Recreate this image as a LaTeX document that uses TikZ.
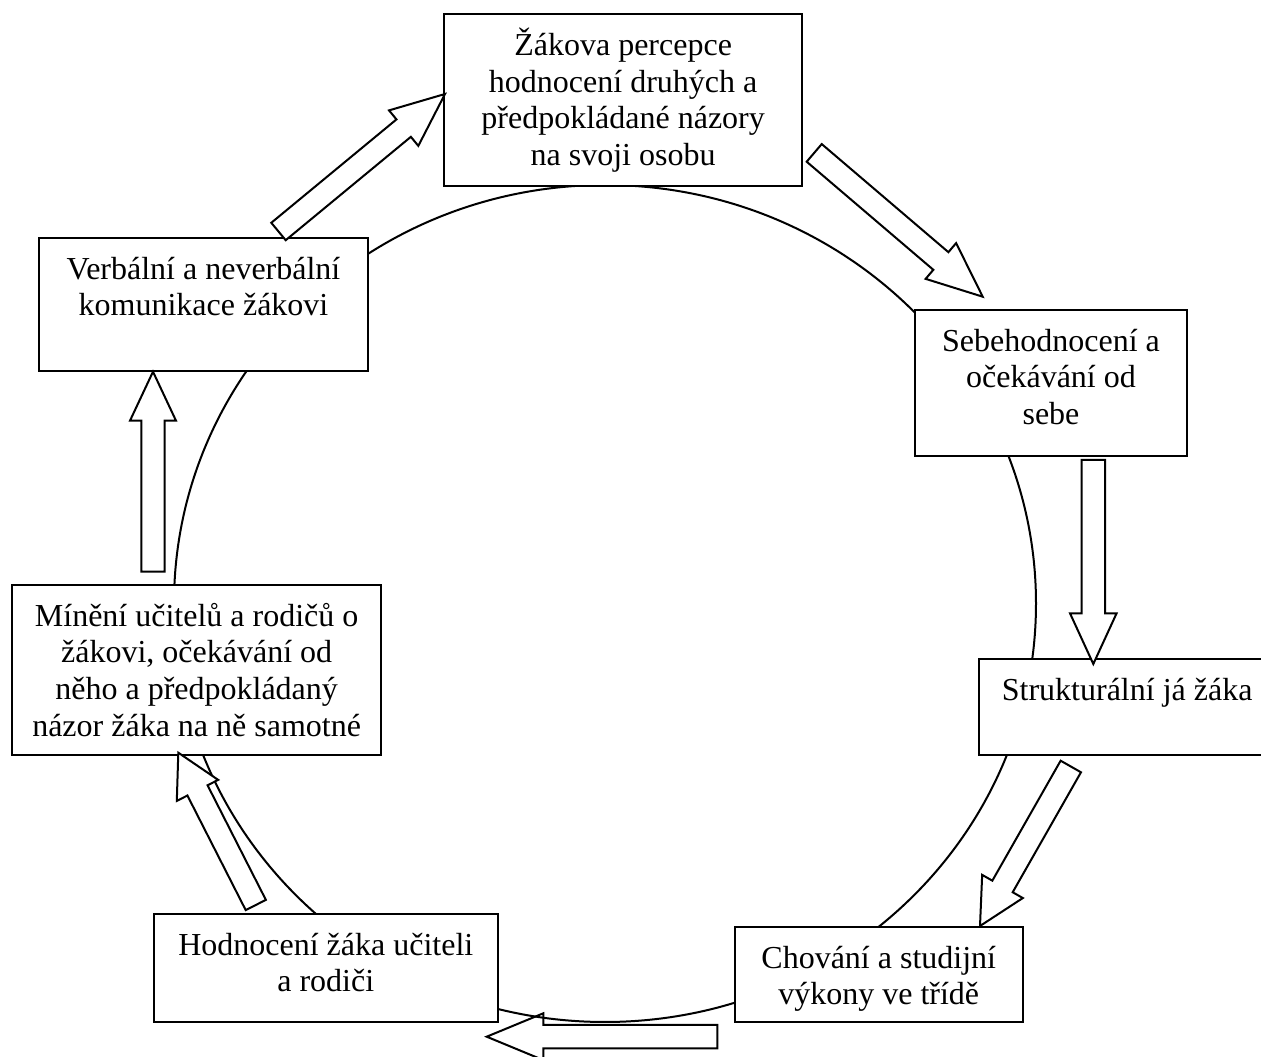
\documentclass[tikz,border=0pt]{standalone}
\usepackage{fontspec}
\setmainfont{Liberation Serif}
\usetikzlibrary{calc}

% one drawing unit = 0.375pt
\newcommand\unitlen{0.375pt}

% hollow block arrow: #1 tail, #2 tip, #3 half shaft width, #4 half head width, #5 head length
\newcommand\blockarrow[5]{%
  \path ($(#2)!#5*\unitlen!(#1)$) coordinate (#1-base);
  \draw[hollowarrow] ($(#1)!#3*\unitlen!90:(#2)$)
    -- ($(#1-base)!#3*\unitlen!90:(#2)$)
    -- ($(#1-base)!#4*\unitlen!90:(#2)$)
    -- (#2)
    -- ($(#1-base)!#4*\unitlen!-90:(#2)$)
    -- ($(#1-base)!#3*\unitlen!-90:(#2)$)
    -- ($(#1)!#3*\unitlen!-90:(#2)$) -- cycle;}

% rectangle node from its corners #2,#3 (top left) to #4,#5 (bottom right)
\newcommand\boxnode[5]{%
  \node[box, minimum width={(#4-#2)*\unitlen}, minimum height={(#5-#3)*\unitlen}] (#1) at (#2,#3) {};}

\tikzset{
  box/.style={draw, fill=white, line width=0.75pt, inner sep=0pt, outer sep=0pt, anchor=north west},
  boxtext/.style={font=\fontsize{12pt}{13.8pt}\selectfont, align=center, inner sep=0pt, anchor=north},
  hollowarrow/.style={draw, fill=white, line width=0.75pt, line join=miter},
  ring/.style={draw, line width=0.75pt},
}
\newcommand\firstline{\rule{0pt}{12pt}}

\begin{document}
\begin{tikzpicture}[x=\unitlen, y=-\unitlen]
\useasboundingbox (0,0) rectangle (1261,1057);

% arrow ends
\coordinate (GA-tail) at (278.5,231.5);  \coordinate (GA-tip) at (445,94);
\coordinate (AB-tail) at (814.2,152.9);  \coordinate (AB-tip) at (982.7,296.7);
\coordinate (BC-tail) at (1093.3,460);   \coordinate (BC-tip) at (1093.3,664);
\coordinate (CD-tail) at (1070.8,766.5); \coordinate (CD-tip) at (980,926);
\coordinate (DE-tail) at (717.3,1036.7); \coordinate (DE-tip) at (486.7,1036.7);
\coordinate (EF-tail) at (255.8,905);    \coordinate (EF-tip) at (178.3,752.7);
\coordinate (FG-tail) at (153,571.7);    \coordinate (FG-tip) at (153,371.7);

% bottom arrow lies under the ring
\blockarrow{DE-tail}{DE-tip}{11.7}{23.4}{56.6}

% the ring behind the boxes
\path[ring] (605,603.5) ellipse [x radius={431*\unitlen}, y radius={418.5*\unitlen}];

% boxes
\boxnode{perc}{444}{14.3}{802.3}{185.7}
\boxnode{self}{915}{310}{1187}{456}
\boxnode{struct}{979.3}{659.3}{1275}{755.3}
\boxnode{behav}{734.5}{927}{1023}{1022.3}
\boxnode{assess}{154}{914}{497.5}{1022.3}
\boxnode{opin}{12.3}{585}{381}{755}
\boxnode{comm}{39}{238}{368}{371}

% box texts
\node[boxtext] (percT) at ([yshift={-8.5*\unitlen}]perc.north)
  {\firstline Žákova percepce\\hodnocení druhých a\\předpokládané názory\\na svoji osobu};
\node[boxtext] (selfT) at ([yshift={-8.5*\unitlen}]self.north)
  {\firstline Sebehodnocení a\\očekávání od\\sebe};
\node[boxtext] (structT) at ([yshift={-8.5*\unitlen}]struct.north)
  {\firstline Strukturální já žáka};
\node[boxtext] (behavT) at ([yshift={-8.5*\unitlen}]behav.north)
  {\firstline Chování a studijní\\výkony ve třídě};
\node[boxtext] (assessT) at ([yshift={-8.5*\unitlen}]assess.north)
  {\firstline Hodnocení žáka učiteli\\a rodiči};
\node[boxtext] (opinT) at ([yshift={-8.5*\unitlen}]opin.north)
  {\firstline Mínění učitelů a rodičů o\\žákovi, očekávání od\\něho a předpokládaný\\názor žáka na ně samotné};
\node[boxtext] (commT) at ([yshift={-8.5*\unitlen}]comm.north)
  {\firstline Verbální a neverbální\\komunikace žákovi};

% block arrows between the boxes
\blockarrow{GA-tail}{GA-tip}{11.3}{23}{53.6}
\blockarrow{AB-tail}{AB-tip}{11.6}{23.5}{55}
\blockarrow{BC-tail}{BC-tip}{11.7}{23.3}{50.7}
\blockarrow{CD-tail}{CD-tip}{11.7}{23.4}{45.5}
\blockarrow{EF-tail}{EF-tip}{11.3}{23.2}{42.3}
\blockarrow{FG-tail}{FG-tip}{11.7}{23}{49}
\end{tikzpicture}
\end{document}
